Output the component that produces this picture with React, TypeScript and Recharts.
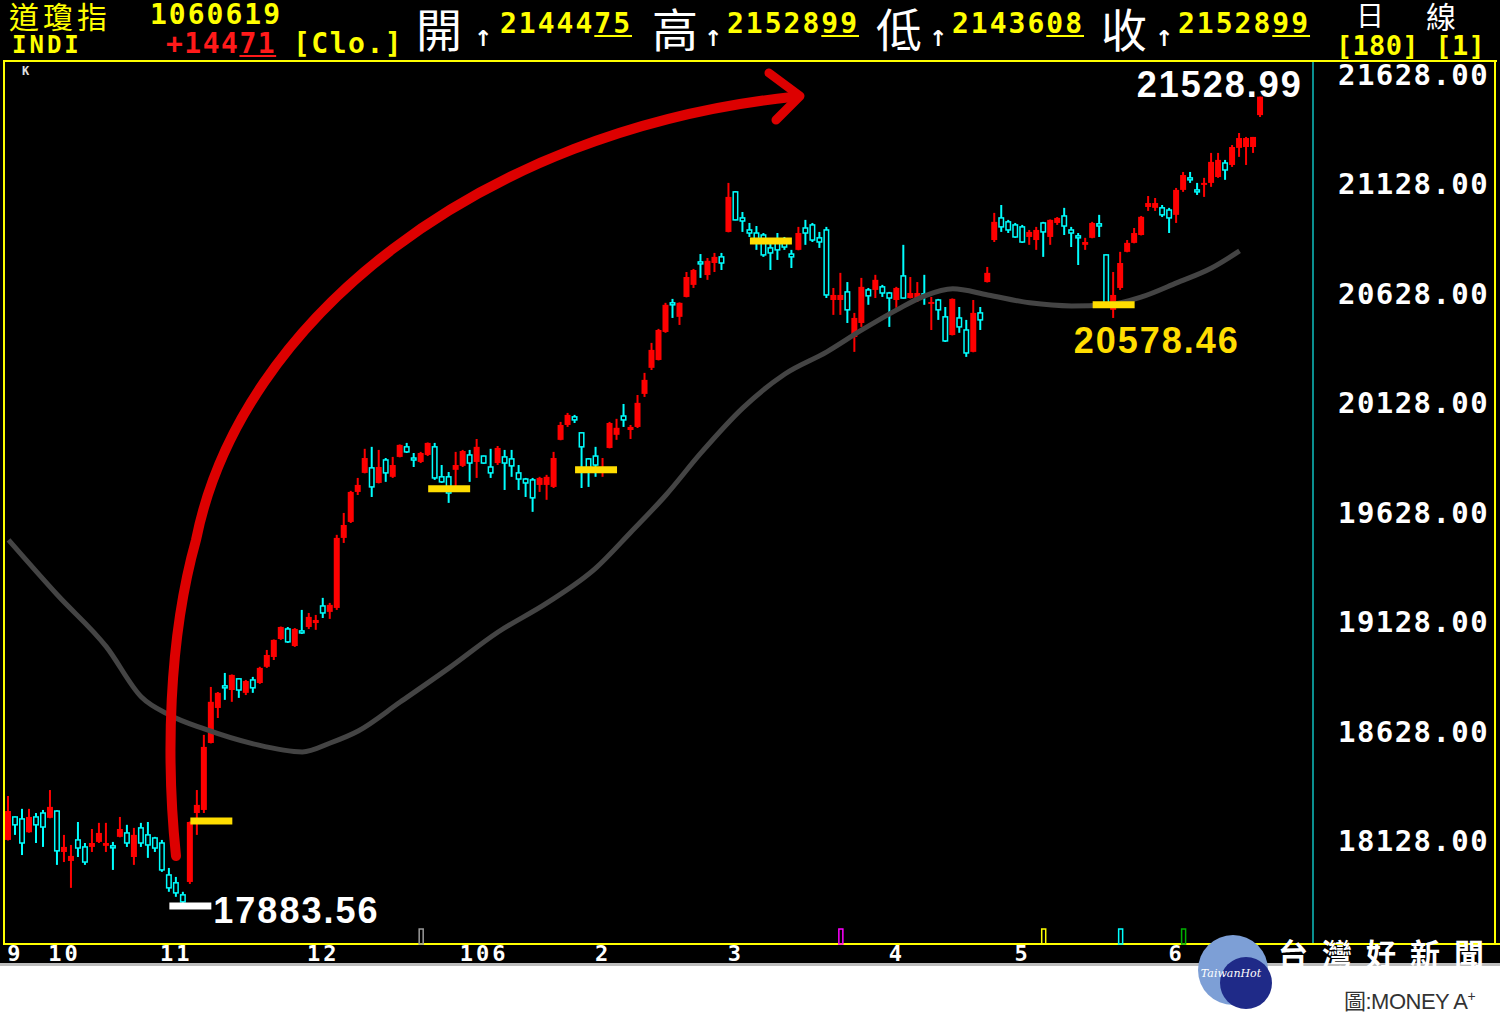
import React from "react";
import { Bar, ComposedChart, Line, ReferenceDot, ReferenceLine, XAxis, YAxis } from "recharts";

// daily candles (index 0 = first bar on the left)
const opens = [
  18133, 18238, 18229, 18168, 18238, 18256, 18234, 18265, 18078, 18037,
  18133, 18101, 18101, 18124, 18106, 18106, 18147, 18165, 18055, 18188,
  18156, 18142, 18119, 17973, 17937, 17882, 17941, 18256, 18270, 18576,
  18736, 18837, 18818, 18869, 18805, 18864, 18850, 18924, 18969, 19051,
  19097, 19019, 19088, 19106, 19124, 19202, 19175, 19193, 19513, 19586,
  19723, 19810, 19833, 19764, 19869, 19792, 19883, 19929, 19878, 19860,
  19892, 19929, 19792, 19792, 19824, 19842, 19892, 19860, 19887, 19837,
  19855, 19883, 19874, 19810, 19782, 19778, 19755, 19755, 19746, 19961,
  20029, 20066, 19993, 19874, 19887, 19810, 19924, 19984, 20070, 20006,
  20020, 20171, 20290, 20326, 20454, 20587, 20523, 20614, 20669, 20774,
  20714, 20769, 20797, 20911, 21094, 20975, 20920, 20906, 20897, 20838,
  20874, 20874, 20810, 20829, 20929, 20943, 20884, 20920, 20600, 20600,
  20637, 20431, 20495, 20646, 20646, 20660, 20632, 20600, 20710, 20609,
  20609, 20628, 20587, 20600, 20523, 20440, 20518, 20463, 20363, 20541,
  20682, 20874, 20975, 20957, 20943, 20934, 20888, 20874, 20952, 20888,
  20952, 20984, 20920, 20893, 20852, 20884, 20948, 20806, 20555, 20655,
  20820, 20861, 20897, 21025, 21021, 21021, 21011, 20989, 21103, 21158,
  21103, 21126, 21135, 21162, 21226, 21217, 21295, 21299, 21299, 21444.75,
];
const highs = [
  18334, 18240, 18275, 18275, 18256, 18270, 18361, 18268, 18156, 18110,
  18215, 18119, 18183, 18211, 18211, 18124, 18238, 18202, 18188, 18211,
  18215, 18147, 18133, 18005, 17964, 17896, 18217, 18361, 18613, 18832,
  18809, 18896, 18889, 18871, 18864, 18878, 18924, 19001, 19049, 19108,
  19106, 19101, 19184, 19170, 19161, 19239, 19216, 19527, 19627, 19728,
  19787, 19920, 19929, 19915, 19878, 19883, 19940, 19947, 19901, 19906,
  19949, 19947, 19846, 19814, 19906, 19915, 19915, 19965, 19889, 19920,
  19933, 19915, 19915, 19846, 19787, 19787, 19792, 19801, 19906, 20043,
  20084, 20075, 19995, 19878, 19929, 19878, 20043, 20057, 20125, 20029,
  20166, 20267, 20404, 20468, 20587, 20605, 20589, 20728, 20742, 20810,
  20792, 20815, 20815, 21135, 21098, 21002, 20952, 20938, 20906, 20861,
  20906, 20888, 20829, 20934, 20966, 20952, 20911, 20934, 20655, 20724,
  20682, 20541, 20701, 20655, 20715, 20669, 20637, 20660, 20852, 20705,
  20682, 20715, 20614, 20605, 20568, 20607, 20568, 20509, 20600, 20568,
  20751, 20998, 21034, 20966, 20952, 20943, 20920, 20934, 20957, 20968,
  20979, 21021, 20934, 20906, 20884, 20957, 20989, 20808, 20728, 20820,
  20874, 20929, 20984, 21075, 21066, 21034, 21021, 21112, 21185, 21185,
  21135, 21158, 21272, 21272, 21240, 21308, 21363, 21345, 21345, 21528.99,
];
const lows = [
  18130, 18156, 18064, 18166, 18119, 18101, 18232, 18019, 18032, 17914,
  18055, 18019, 18078, 18119, 18078, 17996, 18145, 18101, 18019, 18101,
  18051, 18078, 17987, 17896, 17873, 17845, 17932, 18156, 18256, 18574,
  18690, 18773, 18764, 18782, 18795, 18805, 18846, 18919, 18955, 19047,
  19033, 19015, 19074, 19097, 19093, 19147, 19143, 19184, 19490, 19581,
  19709, 19808, 19700, 19762, 19769, 19787, 19881, 19901, 19837, 19855,
  19887, 19778, 19764, 19673, 19732, 19837, 19769, 19787, 19851, 19787,
  19846, 19732, 19792, 19732, 19700, 19632, 19723, 19687, 19741, 19959,
  20020, 20038, 19741, 19746, 19792, 19792, 19922, 19961, 20020, 19965,
  20015, 20157, 20280, 20324, 20450, 20518, 20486, 20612, 20655, 20701,
  20692, 20728, 20737, 20909, 20964, 20911, 20888, 20829, 20797, 20737,
  20783, 20829, 20746, 20827, 20852, 20865, 20838, 20609, 20532, 20532,
  20495, 20363, 20477, 20578, 20609, 20614, 20477, 20564, 20607, 20607,
  20591, 20578, 20463, 20509, 20408, 20438, 20450, 20340, 20361, 20463,
  20680, 20865, 20911, 20906, 20884, 20861, 20852, 20829, 20797, 20852,
  20943, 20897, 20842, 20760, 20829, 20882, 20888, 20585, 20518, 20646,
  20818, 20859, 20895, 21007, 21007, 20979, 20906, 20952, 21094, 21135,
  21080, 21071, 21117, 21158, 21149, 21208, 21254, 21217, 21272, 21436.08,
];
const closes = [
  18265, 18202, 18119, 18238, 18202, 18192, 18284, 18083, 18101, 18060,
  18096, 18032, 18119, 18165, 18119, 18101, 18183, 18119, 18156, 18119,
  18110, 18096, 17996, 17914, 17891, 17850, 18215, 18293, 18558, 18764,
  18805, 18828, 18887, 18818, 18859, 18828, 18919, 18978, 19047, 19106,
  19038, 19097, 19079, 19152, 19138, 19170, 19207, 19513, 19572, 19723,
  19755, 19878, 19746, 19837, 19810, 19846, 19938, 19906, 19874, 19901,
  19947, 19787, 19769, 19718, 19846, 19910, 19855, 19929, 19855, 19810,
  19924, 19855, 19842, 19782, 19764, 19696, 19787, 19792, 19878, 20029,
  20075, 20052, 19929, 19833, 19846, 19837, 20038, 20016, 20052, 20020,
  20130, 20235, 20372, 20463, 20578, 20582, 20587, 20705, 20737, 20769,
  20779, 20797, 20769, 21071, 20966, 20961, 20906, 20865, 20806, 20815,
  20829, 20842, 20797, 20906, 20906, 20874, 20865, 20623, 20623, 20623,
  20555, 20518, 20660, 20619, 20692, 20632, 20609, 20655, 20609, 20632,
  20632, 20619, 20591, 20555, 20413, 20605, 20477, 20358, 20541, 20509,
  20724, 20957, 20934, 20920, 20888, 20865, 20911, 20920, 20911, 20966,
  20975, 20938, 20906, 20884, 20865, 20952, 20938, 20587, 20623, 20769,
  20861, 20906, 20980, 21043, 21043, 20989, 20975, 21103, 21171, 21149,
  21094, 21135, 21231, 21240, 21194, 21299, 21340, 21340, 21345, 21528.99,
];

// grey moving-average curve, sampled along the picture
const maIdx = [0, 7, 14, 19, 23, 28, 35, 42, 46, 50, 56, 63, 70, 77, 84, 89, 94, 99, 105, 111, 117, 122, 127, 131, 135, 140, 146, 152, 157, 162, 167, 172, 176];
const maVals = [19504, 19252, 19015, 18786, 18704, 18640, 18572, 18535, 18576, 18631, 18763, 18919, 19083, 19216, 19376, 19540, 19709, 19901, 20107, 20262, 20363, 20463, 20555, 20619, 20651, 20623, 20587, 20573, 20577, 20614, 20678, 20746, 20824];

const monthTickIdx = [1, 8, 24, 45, 68, 85, 104, 127, 145, 167];
const monthLabels = ["9", "10", "11", "12", "106", "2", "3", "4", "5", "6"];
const yTicks = [18128, 18628, 19128, 19628, 20128, 20628, 21128, 21628];

// horizontal marks drawn on the chart
const markFrom = [23, 26, 60, 81, 106, 155];
const markTo = [29, 32, 66, 87, 112, 161];
const markValue = [17831, 18220, 19737, 19824, 20870, 20578];
const markColor = ["#ffffff", "#ffdd00", "#ffdd00", "#ffdd00", "#ffdd00", "#ffdd00"];

// price labels
const labelText = ["17883.56", "21528.99", "20578.46"];
const labelIdx = [29, 161, 152];
const labelValue = [17754, 21528, 20358];
const labelColor = ["#ffffff", "#ffffff", "#ffdd00"];

// little event flags on the bottom edge
const eventIdx = [59, 119, 148, 159, 168];
const eventColors = ["#9a9a9a", "#ff00ff", "#ffff00", "#00ffff", "#00b000"];

const SLOTS = 187;
const Y_DOMAIN: [number, number] = [17657.5, 21687.4];

const MONO = '"DejaVu Sans Mono", monospace';
const CJK = '"Noto Sans CJK TC", sans-serif';
const YELLOW = "#ffff00";

const data = Array.from({ length: SLOTS }, (_, i) => {
  const row: Record<string, unknown> = { i };
  if (i < opens.length) {
    row.o = opens[i];
    row.h = highs[i];
    row.l = lows[i];
    row.c = closes[i];
    row.range = [lows[i], highs[i]];
  }
  const k = maIdx.indexOf(i);
  row.ma = k >= 0 ? maVals[k] : null;
  return row;
});

function Candle(props: any) {
  const { x, y, width, height, payload } = props;
  if (!payload || payload.o == null) return null;
  const { o, h, l, c } = payload;
  const top = Math.min(y, y + height);
  const span = Math.abs(height);
  const k = h > l ? span / (h - l) : 0;
  const cx = x + width / 2;
  const up = c >= o;
  const color = up ? "#ff0000" : "#00ffff";
  const bodyTop = top + (h - Math.max(o, c)) * k;
  const bodyH = Math.max(Math.abs(o - c) * k, 2);
  return (
    <g>
      <line x1={cx} x2={cx} y1={top} y2={top + span} stroke={color} strokeWidth={2} />
      {up ? (
        <rect x={x} y={bodyTop} width={width} height={bodyH} fill={color} />
      ) : (
        <rect
          x={x + 0.75}
          y={bodyTop}
          width={width - 1.5}
          height={bodyH}
          fill="#000"
          stroke={color}
          strokeWidth={1.5}
        />
      )}
    </g>
  );
}

function YTick(props: any) {
  const { y, payload } = props;
  return (
    <text x={1489} y={y} dy={10} textAnchor="end" fill="#ffffff" fontFamily={MONO} fontWeight="bold" fontSize={29} letterSpacing={1.4}>
      {Number(payload.value).toFixed(2)}
    </text>
  );
}

function XTick(props: any) {
  const { x, payload } = props;
  const k = monthTickIdx.indexOf(payload.value);
  return (
    <text x={x} y={961} textAnchor="middle" fill="#ffffff" fontFamily={MONO} fontWeight="bold" fontSize={22} letterSpacing={3}>
      {k >= 0 ? monthLabels[k] : ""}
    </text>
  );
}

function T(props: { left: number; top: number; size: number; color?: string; font?: string; bold?: boolean; ls?: number; children: React.ReactNode }) {
  const { left, top, size, color = YELLOW, font = MONO, bold = true, ls = 0, children } = props;
  return (
    <div
      style={{
        position: "absolute",
        left,
        top,
        fontSize: size,
        lineHeight: `${size}px`,
        color,
        fontFamily: font,
        fontWeight: bold ? "bold" : "normal",
        letterSpacing: ls,
        whiteSpace: "nowrap",
      }}
    >
      {children}
    </div>
  );
}

const u = (s: string) => <span style={{ textDecoration: "underline" }}>{s}</span>;

export default function App() {
  return (
    <div style={{ position: "absolute", left: 0, top: 0, width: 1500, height: 1028, background: "#ffffff", overflow: "hidden" }}>
      <div style={{ position: "absolute", left: 0, top: 0, width: 1500, height: 963, background: "#000000" }} />
      <div style={{ position: "absolute", left: 0, top: 963, width: 1500, height: 3, background: "#bdbdbd" }} />

      {/* header */}
      <T left={9} top={0} size={30} font={CJK} bold={false} ls={4}>道瓊指</T>
      <T left={150} top={1} size={28} ls={2}>1060619</T>
      <T left={12} top={33} size={24} ls={3}>INDI</T>
      <T left={166} top={30} size={28} ls={1.5} color="#ff1a1a">+144{u("71")}</T>
      <T left={293} top={30} size={28} ls={1.5}>[Clo.]</T>

      <T left={416} top={4} size={46} font={CJK} bold={false} color="#ffffff">開</T>
      <T left={474} top={28} size={22} font='"DejaVu Sans", sans-serif' color="#ffffff">↑</T>
      <T left={500} top={10} size={28} ls={2}>21444{u("75")}</T>

      <T left={652} top={4} size={46} font={CJK} bold={false} color="#ffffff">高</T>
      <T left={704} top={28} size={22} font='"DejaVu Sans", sans-serif' color="#ffffff">↑</T>
      <T left={727} top={10} size={28} ls={2}>21528{u("99")}</T>

      <T left={876} top={4} size={46} font={CJK} bold={false} color="#ffffff">低</T>
      <T left={929} top={28} size={22} font='"DejaVu Sans", sans-serif' color="#ffffff">↑</T>
      <T left={952} top={10} size={28} ls={2}>21436{u("08")}</T>

      <T left={1101} top={4} size={46} font={CJK} bold={false} color="#ffffff">收</T>
      <T left={1155} top={28} size={22} font='"DejaVu Sans", sans-serif' color="#ffffff">↑</T>
      <T left={1178} top={10} size={28} ls={2}>21528{u("99")}</T>

      <T left={1356} top={0} size={28} font={CJK} bold={false} color="#ffffff">日</T>
      <T left={1426} top={0} size={30} font={CJK} bold={false} color="#ffffff">線</T>
      <T left={1336} top={32} size={27} ls={0.3}>[180] [1]</T>

      {/* frame */}
      <div style={{ position: "absolute", left: 3, top: 60, width: 1494, height: 2, background: YELLOW }} />
      <div style={{ position: "absolute", left: 3, top: 60, width: 2, height: 885, background: YELLOW }} />
      <div style={{ position: "absolute", left: 3, top: 943, width: 1497, height: 2, background: YELLOW }} />
      <div style={{ position: "absolute", left: 1494, top: 60, width: 2, height: 885, background: YELLOW }} />
      <div style={{ position: "absolute", left: 1312, top: 62, width: 2, height: 881, background: "#0a8f8f" }} />
      <T left={22} top={65} size={12} color="#e0e0e0">K</T>

      <div style={{ position: "absolute", left: 0, top: 0 }}>
        <ComposedChart
          width={1500}
          height={963}
          data={data}
          margin={{ top: 62, right: 0, bottom: 0, left: 5 }}
          barCategoryGap={0}
        >
          <XAxis
            dataKey="i"
            type="category"
            ticks={monthTickIdx}
            interval={0}
            tick={<XTick />}
            axisLine={false}
            tickLine={false}
            height={19}
          />
          <YAxis
            orientation="right"
            type="number"
            domain={Y_DOMAIN}
            allowDataOverflow
            ticks={yTicks}
            tick={<YTick />}
            axisLine={false}
            tickLine={false}
            width={187}
          />
          <Line
            dataKey="ma"
            type="monotone"
            stroke="#444444"
            strokeWidth={5}
            dot={false}
            connectNulls
            isAnimationActive={false}
          />
          <Bar dataKey="range" barSize={6} shape={<Candle />} isAnimationActive={false} />
          {markFrom.map((f, k) => (
            <ReferenceLine
              key={`mark-${k}`}
              segment={[
                { x: f, y: markValue[k] },
                { x: markTo[k], y: markValue[k] },
              ]}
              stroke={markColor[k]}
              strokeWidth={7}
            />
          ))}
          {eventIdx.map((e, k) => (
            <ReferenceDot
              key={`ev-${k}`}
              x={e}
              y={17694}
              r={1}
              shape={(p: any) => (
                <rect x={p.cx - 2} y={p.cy - 7} width={4} height={15} fill="none" stroke={eventColors[k]} strokeWidth={1.5} />
              )}
            />
          ))}
          {labelText.map((t, k) => (
            <ReferenceDot
              key={`lbl-${k}`}
              x={labelIdx[k]}
              y={labelValue[k]}
              r={1}
              shape={(p: any) => (
                <text
                  x={p.cx + 2}
                  y={p.cy}
                  fill={labelColor[k]}
                  fontFamily='"Liberation Sans", Arial, sans-serif'
                  fontWeight="bold"
                  fontSize={36}
                  letterSpacing={2}
                >
                  {t}
                </text>
              )}
            />
          ))}
        </ComposedChart>
      </div>

      {/* hand-drawn red arrow */}
      <svg width={1500} height={963} style={{ position: "absolute", left: 0, top: 0, pointerEvents: "none" }}>
        <path
          d="M176,856 C166,760 168,640 196,540 C240,320 480,130 792,97"
          fill="none"
          stroke="#dd0000"
          strokeWidth={10}
          strokeLinecap="round"
        />
        <path d="M769,73 L800,96 L776,120" fill="none" stroke="#dd0000" strokeWidth={9} strokeLinecap="round" strokeLinejoin="round" />
      </svg>

      {/* watermark and credit */}
      <T left={1278} top={937} size={30} font={CJK} color="#ffffff" ls={14}>台灣好新聞</T>
      <svg width={1500} height={1028} style={{ position: "absolute", left: 0, top: 0, pointerEvents: "none" }}>
        <ellipse cx={1233} cy={970} rx={35} ry={35} fill="#7d9fd6" />
        <circle cx={1246} cy={983} r={26} fill="#1f2a88" />
        <text x={1231} y={977} textAnchor="middle" fill="#ffffff" fontFamily='"DejaVu Serif", serif' fontStyle="italic" fontSize={11}>
          TaiwanHot
        </text>
      </svg>
      <T left={1344} top={985} size={22} font='"Liberation Sans", "Noto Sans CJK TC", sans-serif' bold={false} color="#333333" ls={-0.5}>
        圖:MONEY A<sup style={{ fontSize: 14 }}>+</sup>
      </T>
    </div>
  );
}
